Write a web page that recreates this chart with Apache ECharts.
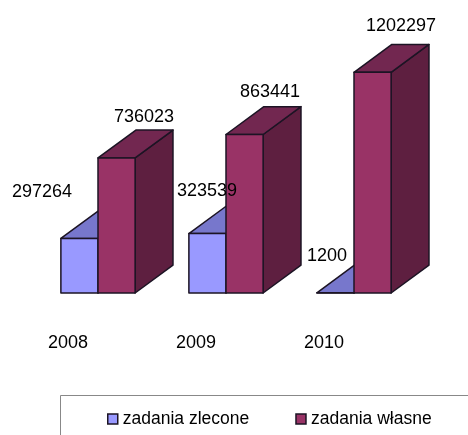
<!DOCTYPE html>
<html>
<head>
<meta charset="utf-8">
<script src="https://cdn.jsdelivr.net/npm/echarts@6/dist/echarts.min.js"></script>
<style>html,body{margin:0;padding:0;background:#fff}#c{width:468px;height:435px}</style>
</head>
<body>
<div id="c"></div>
<script>
const categories = ['2008', '2009', '2010'];
const zleconeValues = [297264, 323539, 1200];
const wlasneValues = [736023, 863441, 1202297];
const seriesNames = ['zadania zlecone', 'zadania własne'];

// label nudges (style only): offset from band centre / bar front-top, in px
const labelNudge = [
  { dx: [-56, -19, -27], dy: [-46, -43, -37] },
  { dx: [46, 44, 47], dy: [-41, -42, -46] }
];
const palette = [
  { front: '#9999ff', top: '#7777cc', side: '#4d4d99' },
  { front: '#993366', top: '#722750', side: '#5e1f40' }
];
const FONT = 'Liberation Sans, Arial, sans-serif';
const EDGE = '#1c1424';

function makeRender(si) {
  return function (params, api) {
    const i = api.value(0);
    const v = api.value(1);
    const top = api.coord([i, v]);
    const base = api.coord([i, 0]);
    const band = api.size([1, 0])[0];
    const bw = band * 0.29;
    const c = top[0];
    const x0 = si === 0 ? c - bw : c;
    const x1 = x0 + bw;
    const yt = top[1], yb = base[1];
    const dx = bw * 1.02, dy = -bw * 0.75;
    const col = palette[si];
    const st = (f) => ({ fill: f, stroke: EDGE, lineWidth: 1.5, lineJoin: 'round' });
    return {
      type: 'group',
      children: [
        { type: 'polygon', shape: { points: [[x1, yt], [x1 + dx, yt + dy], [x1 + dx, yb + dy], [x1, yb]] }, style: st(col.side) },
        { type: 'polygon', shape: { points: [[x0, yt], [x0 + dx, yt + dy], [x1 + dx, yt + dy], [x1, yt]] }, style: st(col.top) },
        { type: 'polygon', shape: { points: [[x0, yt], [x1, yt], [x1, yb], [x0, yb]] }, style: st(col.front) },
        { type: 'text', z2: 50, style: {
            text: String(v), x: c + labelNudge[si].dx[i], y: yt + labelNudge[si].dy[i],
            align: 'center', verticalAlign: 'middle', fill: '#000', fontSize: 18, fontFamily: FONT } }
      ]
    };
  };
}

const chart = echarts.init(document.getElementById('c'), null, { renderer: 'canvas' });
chart.setOption({
  animation: false,
  backgroundColor: '#fff',
  grid: { left: 34, right: 50, top: 36, bottom: 142, containLabel: false },
  xAxis: {
    type: 'category', data: categories, boundaryGap: true,
    axisLine: { show: false }, axisTick: { show: false }, splitLine: { show: false },
    axisLabel: { margin: 41, padding: [0, 60, 0, 0], fontSize: 18, fontFamily: FONT, color: '#000' }
  },
  yAxis: { type: 'value', min: 0, max: 1400000, show: false, splitLine: { show: false } },
  graphic: [
    { type: 'rect', left: 58, top: 393, shape: { width: 430, height: 60 },
      style: { fill: 'none', stroke: '#888', lineWidth: 1 }, z: -1 }
  ],
  legend: {
    left: 107, top: 409, width: 360,
    padding: 0,
    itemWidth: 10, itemHeight: 10, itemGap: 46,
    icon: 'rect',
    textStyle: { fontSize: 17.5, fontFamily: FONT, color: '#000', lineHeight: 20 },
    data: [
      { name: seriesNames[0], itemStyle: { color: palette[0].front, borderColor: EDGE, borderWidth: 1.5 } },
      { name: seriesNames[1], itemStyle: { color: palette[1].front, borderColor: EDGE, borderWidth: 1.5 } }
    ]
  },
  series: [
    { type: 'custom', name: seriesNames[0], clip: false, renderItem: makeRender(0),
      itemStyle: { color: palette[0].front },
      encode: { x: 0, y: 1 },
      data: zleconeValues.map((v, i) => [i, v]) },
    { type: 'custom', name: seriesNames[1], clip: false, renderItem: makeRender(1),
      itemStyle: { color: palette[1].front },
      encode: { x: 0, y: 1 },
      data: wlasneValues.map((v, i) => [i, v]) }
  ]
});
</script>
</body>
</html>
